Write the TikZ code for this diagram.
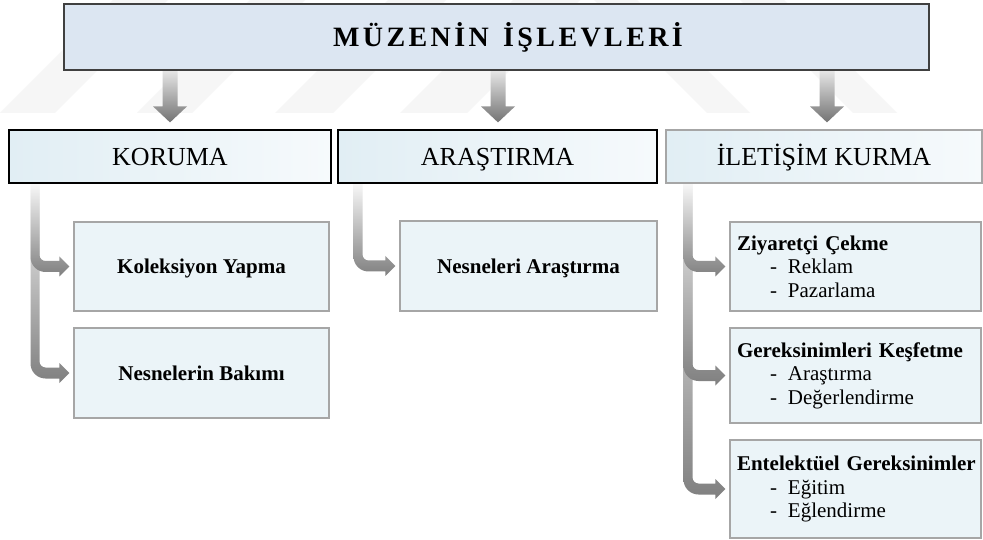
\documentclass[tikz,border=0pt]{standalone}
\usepackage{fontspec}
\setmainfont{Liberation Serif}
\usetikzlibrary{calc}

\definecolor{titlefill}{HTML}{DCE6F2}
\definecolor{grpL}{HTML}{E1EEF4}
\definecolor{grpR}{HTML}{F6FAFC}
\definecolor{taskfill}{HTML}{EBF4F8}
\definecolor{boxline}{HTML}{A6A6A6}
\definecolor{wmark}{HTML}{F6F6F6}

\pgfdeclarelayer{wm}
\pgfdeclarelayer{links}
\pgfsetlayers{wm,links,main}

\tikzset{
  headbox/.style={draw=black!75, line width=1.6pt, fill=titlefill,
    minimum width=865pt, minimum height=66pt, inner sep=0pt,
    text height=19pt, text depth=0pt,
    font=\bfseries\fontsize{28}{32}\selectfont},
  groupbox/.style={draw=black, line width=1.2pt, left color=grpL, right color=grpR,
    inner sep=0pt, minimum height=53pt, text height=18pt, text depth=0pt,
    font=\fontsize{26}{30}\selectfont},
  groupboxlight/.style={groupbox, draw=boxline},
  taskbox/.style={draw=boxline, line width=1.4pt, fill=taskfill, inner sep=0pt,
    minimum width=255pt, text height=14pt, text depth=0pt,
    font=\bfseries\fontsize{21}{24}\selectfont},
  listbox/.style={draw=boxline, line width=1.4pt, fill=taskfill, inner ysep=0pt,
    inner xsep=7pt, text width=237pt, align=left,
    font=\fontsize{21}{23.5}\selectfont},
  dropshade/.style={top color=black!10, bottom color=black!55},
  branchshade/.style={top color=black!3, bottom color=black!50},
  stripe/.style={fill=wmark}
}

% tracked capitals: a small kern after every letter of the word
\def\trk#1{\ifx#1\relax\else#1\kern3.4pt\expandafter\trk\fi}
% list entry: indented dash followed by the item
\newcommand\itemline[1]{\hspace*{33pt}-\hspace*{11pt}#1}
% bold first line of a list box, kept on one line
\newcommand\listhead[1]{\mbox{\bfseries #1}}

% vertical arrow from the lower edge of #1 down to the top of #3, centred at x = #2
\newcommand\dropto[3]{%
  \shade[dropshade] let \p1=(#1.south), \p2=(#3.north) in
    ({#2pt-7.5pt},\y1) -- ({#2pt-7.5pt},{\y2+23pt}) -- ({#2pt-17pt},{\y2+23pt})
    -- ({#2pt},{\y2+7pt}) -- ({#2pt+17pt},{\y2+23pt}) -- ({#2pt+7.5pt},{\y2+23pt})
    -- ({#2pt+7.5pt},\y1) -- cycle;}

% bent arrow: down from #1 along x = #2, then right into the west side of #3
\newcommand\branchto[3]{%
  \shade[branchshade] let \p1=(#1.south), \p2=(#3.west) in
    ({#2pt-4.5pt},\y1) -- ({#2pt-4.5pt},{\y2-5.5pt+15pt})
    .. controls ({#2pt-4.5pt},{\y2-5.5pt+6.7pt}) and ({#2pt-4.5pt+6.7pt},{\y2-5.5pt})
    .. ({#2pt-4.5pt+15pt},{\y2-5.5pt})
    -- ({\x2-14pt},{\y2-5.5pt}) -- ({\x2-14pt},{\y2-10pt}) -- ({\x2-4pt},\y2)
    -- ({\x2-14pt},{\y2+10pt}) -- ({\x2-14pt},{\y2+5.5pt})
    -- ({#2pt+4.5pt+6pt},{\y2+5.5pt})
    .. controls ({#2pt+4.5pt+2.7pt},{\y2+5.5pt}) and ({#2pt+4.5pt},{\y2+5.5pt+2.7pt})
    .. ({#2pt+4.5pt},{\y2+5.5pt+6pt})
    -- ({#2pt+4.5pt},\y1) -- cycle;}

\begin{document}
\begin{tikzpicture}[x=1pt,y=-1pt]
  \useasboundingbox (0,0) rectangle (983,540);

  % white ground and faint diagonal band pattern behind everything
  \begin{pgfonlayer}{wm}
    \fill[white] (0,0) rectangle (983,540);
    \fill[stripe] (0,113) -- (55,113) -- (168,0) -- (113,0) -- cycle;
    \fill[stripe] (137,113) -- (192,113) -- (305,0) -- (250,0) -- cycle;
    \fill[stripe] (275,113) -- (333,113) -- (446,0) -- (388,0) -- cycle;
    \fill[stripe] (400,113) -- (467,113) -- (580,0) -- (513,0) -- cycle;
    \fill[stripe] (707,113) -- (750,113) -- (637,0) -- (594,0) -- cycle;
    \fill[stripe] (853,113) -- (897,113) -- (784,0) -- (740,0) -- cycle;
  \end{pgfonlayer}

  % heading (text set a little right of the box centre)
  \node[headbox] (head) at (496.5,37)
    {\hspace*{23pt}\trk MÜZENİN\relax\hspace{11pt}\trk İŞLEVLERİ\relax\kern-3.4pt};

  % three function groups
  \node[groupbox, minimum width=322pt] (kor) at (170,156.5) {KORUMA};
  \node[groupbox, minimum width=319pt] (ara) at (497.5,156.5) {ARAŞTIRMA};
  \node[groupboxlight, minimum width=316pt] (ile) at (824,156.5) {İLETİŞİM KURMA};

  % tasks of each group
  \node[taskbox, minimum height=89pt] (kol) at (201.5,266.5) {Koleksiyon Yapma};
  \node[taskbox, minimum height=90pt] (bak) at (201.5,373) {Nesnelerin Bakımı};
  \node[taskbox, minimum width=257pt, minimum height=90pt] (nar) at (528.5,266) {Nesneleri Araştırma};

  \node[listbox, minimum height=89pt] (ziy) at (855.5,266.5)
    {\listhead{Ziyaretçi Çekme}\\\itemline{Reklam}\\\itemline{Pazarlama}};
  \node[listbox, minimum height=95pt] (ger) at (855.5,375.5)
    {\listhead{Gereksinimleri Keşfetme}\\\itemline{Araştırma}\\\itemline{Değerlendirme}};
  \node[listbox, minimum height=98pt] (ent) at (855.5,489)
    {\listhead{Entelektüel Gereksinimler}\\\itemline{Eğitim}\\\itemline{Eğlendirme}};

  % connectors
  \begin{pgfonlayer}{links}
    \dropto{head}{170}{kor}
    \dropto{head}{498}{ara}
    \dropto{head}{827}{ile}

    \branchto{kor}{35}{bak}
    \branchto{kor}{35}{kol}
    \branchto{ara}{358}{nar}
    \branchto{ile}{688}{ent}
    \branchto{ile}{688}{ger}
    \branchto{ile}{688}{ziy}
  \end{pgfonlayer}
\end{tikzpicture}
\end{document}
